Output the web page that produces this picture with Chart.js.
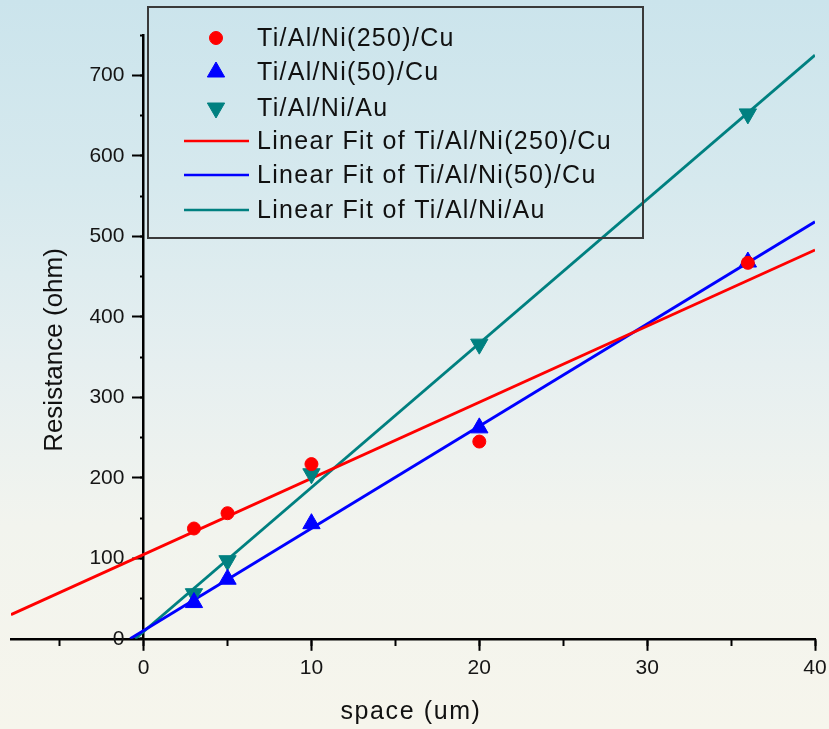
<!DOCTYPE html>
<html><head><meta charset="utf-8">
<script src="https://cdn.jsdelivr.net/npm/chart.js@4.4.1/dist/chart.umd.min.js"></script>
<style>
html,body{margin:0;padding:0;}
body{width:829px;height:729px;overflow:hidden;background:linear-gradient(to bottom,#cbe4ec 0%,#d6e9ee 25%,#e6eff0 50%,#f2f4ee 72%,#f6f5ec 100%);}
canvas{display:block;}
</style></head><body>
<canvas id="c" width="829" height="729"></canvas>
<script>
// ---- data ----
const seriesNames = ['Ti/Al/Ni(250)/Cu', 'Ti/Al/Ni(50)/Cu', 'Ti/Al/Ni/Au'];
const fitNames = ['Linear Fit of Ti/Al/Ni(250)/Cu', 'Linear Fit of Ti/Al/Ni(50)/Cu', 'Linear Fit of Ti/Al/Ni/Au'];
const spaceUm = [3, 5, 10, 20, 36];
const resNi250Cu = [137, 156, 217, 245, 467];
const resNi50Cu = [45, 74, 143, 262, 468];
const resNiAu = [56, 97, 205, 366, 652];
// fitted lines: end points
const fitNi250CuX = [-7.9, 40];
const fitNi250CuY = [30, 483];
const fitNi50CuX = [-0.8, 40];
const fitNi50CuY = [0, 518];
const fitNiAuX = [-0.5, 40];
const fitNiAuY = [0, 725];
const xMajorTicks = [0, 10, 20, 30, 40];
const yMajorTicks = [0, 100, 200, 300, 400, 500, 600, 700];
const xRange = [-7.9, 40];
const yRange = [0, 750];

const colors = ['#ff0000', '#0000ff', '#008080'];
const pts = (xs, ys) => xs.map((x, i) => ({x: x, y: ys[i]}));

Chart.defaults.font.family = '"Liberation Sans", Arial, sans-serif';
Chart.defaults.color = '#151515';

const legendPlugin = {
  id: 'boxLegend',
  afterDraw(chart) {
    const ctx = chart.ctx;
    ctx.save();
    ctx.strokeStyle = '#3a3a3a';
    ctx.lineWidth = 2;
    ctx.strokeRect(148, 7, 495, 231);
    const rows = [38, 72, 108, 141, 175, 210];
    ctx.font = '25px "Liberation Sans", Arial, sans-serif';
    ctx.letterSpacing = '1.3px';
    ctx.textBaseline = 'middle';
    ctx.textAlign = 'left';
    chart.data.datasets.forEach((ds, i) => {
      const y = rows[i];
      if (ds.showLine) {
        ctx.strokeStyle = ds.borderColor;
        ctx.lineWidth = 2.5;
        ctx.beginPath();
        ctx.moveTo(184, y);
        ctx.lineTo(249, y);
        ctx.stroke();
      } else {
        ctx.fillStyle = ds.backgroundColor;
        ctx.strokeStyle = ds.borderColor;
        ctx.lineWidth = 1;
        Chart.helpers.drawPoint(ctx, {pointStyle: ds.pointStyle, radius: ds.pointRadius, rotation: ds.pointRotation || 0, borderWidth: 1}, 216, y);
      }
      ctx.fillStyle = '#111';
      ctx.fillText(ds.label, 257, y + 1);
    });
    // axis titles
    ctx.font = '25px "Liberation Sans", Arial, sans-serif';
    ctx.letterSpacing = '1.6px';
    ctx.textAlign = 'center';
    ctx.fillText('space (um)', 411, 712);
    ctx.font = '26px "Liberation Sans", Arial, sans-serif';
    ctx.letterSpacing = '0px';
    ctx.translate(55, 350);
    ctx.rotate(-Math.PI / 2);
    ctx.fillText('Resistance (ohm)', 0, 0);
    ctx.restore();
  }
};

const pointDs = (label, ys, color, style, r, rot) => ({
  label: label, data: pts(spaceUm, ys), showLine: false,
  pointStyle: style, pointRadius: r, pointHoverRadius: r, pointRotation: rot,
  backgroundColor: color, borderColor: color, pointBorderWidth: 1
});
const lineDs = (label, xs, ys, color) => ({
  label: label, data: pts(xs, ys), showLine: true, pointRadius: 0, pointHoverRadius: 0,
  borderColor: color, backgroundColor: color, borderWidth: 2.8, fill: false
});

const axisTicks = (len) => ({display: true, drawOnChartArea: false, drawTicks: true, tickLength: len, tickColor: '#000', tickWidth: 2});

new Chart(document.getElementById('c'), {
  type: 'scatter',
  data: {
    datasets: [
      pointDs(seriesNames[0], resNi250Cu, colors[0], 'circle', 6.5, 0),
      pointDs(seriesNames[1], resNi50Cu, colors[1], 'triangle', 10, 0),
      pointDs(seriesNames[2], resNiAu, colors[2], 'triangle', 10, 180),
      lineDs(fitNames[0], fitNi250CuX, fitNi250CuY, colors[0]),
      lineDs(fitNames[1], fitNi50CuX, fitNi50CuY, colors[1]),
      lineDs(fitNames[2], fitNiAuX, fitNiAuY, colors[2])
    ]
  },
  options: {
    responsive: false,
    animation: false,
    events: [],
    layout: {padding: {left: 10, right: 14, top: 35, bottom: 43}},
    plugins: {legend: {display: false}, tooltip: {enabled: false}},
    scales: {
      x: {
        type: 'linear', position: 'bottom', min: xRange[0], max: xRange[1],
        afterBuildTicks: (s) => { s.ticks = xMajorTicks.map(v => ({value: v})); },
        afterFit: (s) => { s.paddingLeft = 0; s.paddingRight = 0; },
        ticks: {font: {size: 21}, padding: 5, color: '#151515', maxRotation: 0},
        grid: axisTicks(12),
        border: {display: true, color: '#000', width: 2.5}
      },
      xMinor: {
        type: 'linear', position: {y: 0}, min: xRange[0], max: xRange[1],
        ticks: {display: false, stepSize: 5, includeBounds: false},
        grid: axisTicks(7),
        border: {display: false}
      },
      y: {
        type: 'linear', position: {x: 0}, min: yRange[0], max: yRange[1],
        afterBuildTicks: (s) => { s.ticks = yMajorTicks.map(v => ({value: v})); },
        ticks: {display: false},
        grid: axisTicks(10),
        border: {display: true, color: '#000', width: 2.5}
      },
      yMinor: {
        type: 'linear', position: {x: 0}, min: yRange[0], max: yRange[1],
        ticks: {display: false, stepSize: 50, includeBounds: false},
        grid: axisTicks(4),
        border: {display: false}
      },
      yLabels: {
        type: 'linear', position: {x: -1.14}, min: yRange[0], max: yRange[1],
        afterBuildTicks: (s) => { s.ticks = yMajorTicks.map(v => ({value: v})); },
        ticks: {display: true, font: {size: 21}, color: '#151515'},
        grid: {display: false},
        border: {display: false}
      }
    }
  },
  plugins: [legendPlugin]
});
</script>
</body></html>
